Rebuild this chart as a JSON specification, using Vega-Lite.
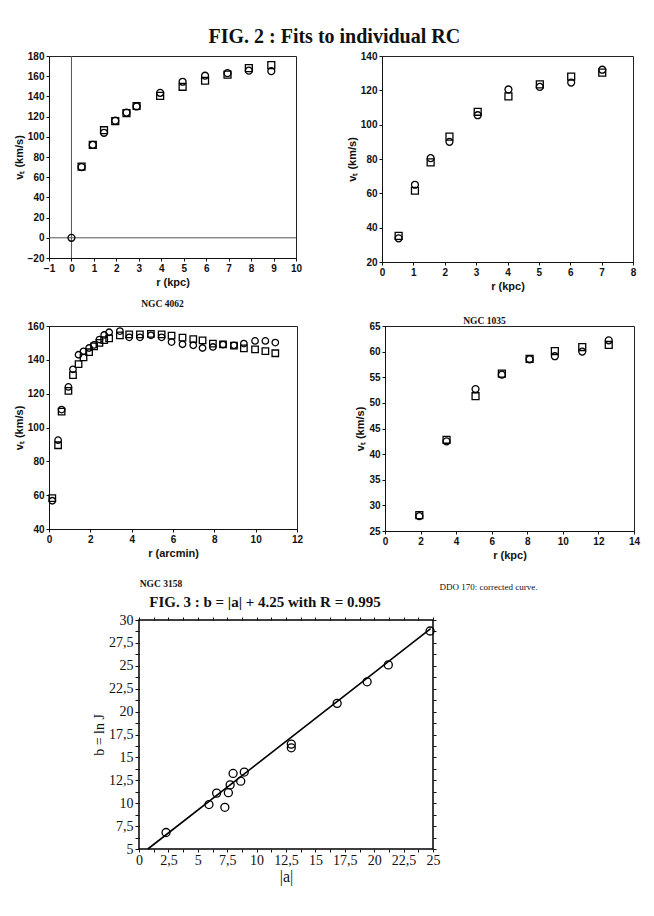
{
  "$schema": "https://vega.github.io/schema/vega-lite/v6.json",
  "background": "white",
  "padding": {"left": 12, "top": 26, "right": 5, "bottom": 5},
  "title": {"text": "FIG. 2 : Fits to individual RC", "font": "Liberation Serif", "fontSize": 20, "fontWeight": "bold", "anchor": "middle", "offset": 4, "color": "#111", "dx": 8},
  "config": {
    "view": {"stroke": "#222", "strokeWidth": 1},
    "axis": {"grid": false, "domainColor": "#111", "tickColor": "#111", "labelColor": "#111", "titleColor": "#111", "labelFont": "Liberation Sans", "labelFontSize": 10, "labelFontWeight": "bold", "titleFont": "Liberation Sans", "titleFontSize": 11, "titleFontWeight": "bold", "tickSize": 3, "labelPadding": 2, "titlePadding": 3, "labelOverlap": false, "labelFlush": false}
  },
  "datasets": {
    "p1": [
      {"r": 0, "v": 0, "kind": "circle"},
      {"r": 0.45, "v": 70, "kind": "circle"},
      {"r": 0.95, "v": 92, "kind": "circle"},
      {"r": 1.45, "v": 104, "kind": "circle"},
      {"r": 1.95, "v": 116, "kind": "circle"},
      {"r": 2.45, "v": 124, "kind": "circle"},
      {"r": 2.9, "v": 130, "kind": "circle"},
      {"r": 3.95, "v": 143.5, "kind": "circle"},
      {"r": 4.95, "v": 154.5, "kind": "circle"},
      {"r": 5.95, "v": 160.5, "kind": "circle"},
      {"r": 6.95, "v": 163, "kind": "circle"},
      {"r": 7.9, "v": 165.5, "kind": "circle"},
      {"r": 8.9, "v": 165, "kind": "circle"},
      {"r": 0.45, "v": 70.5, "kind": "square"},
      {"r": 0.95, "v": 92, "kind": "square"},
      {"r": 1.45, "v": 106.5, "kind": "square"},
      {"r": 1.95, "v": 115.5, "kind": "square"},
      {"r": 2.45, "v": 123.5, "kind": "square"},
      {"r": 2.9, "v": 130.5, "kind": "square"},
      {"r": 3.95, "v": 140.5, "kind": "square"},
      {"r": 4.95, "v": 149.5, "kind": "square"},
      {"r": 5.95, "v": 155.5, "kind": "square"},
      {"r": 6.95, "v": 161.5, "kind": "square"},
      {"r": 7.9, "v": 168, "kind": "square"},
      {"r": 8.9, "v": 171, "kind": "square"}
    ],
    "p2": [
      {"r": 0.53, "v": 33.8, "kind": "circle"},
      {"r": 1.05, "v": 65, "kind": "circle"},
      {"r": 1.55, "v": 80.5, "kind": "circle"},
      {"r": 2.15, "v": 90, "kind": "circle"},
      {"r": 3.05, "v": 105.5, "kind": "circle"},
      {"r": 4.03, "v": 120.5, "kind": "circle"},
      {"r": 5.03, "v": 122, "kind": "circle"},
      {"r": 6.03, "v": 124.5, "kind": "circle"},
      {"r": 7.02, "v": 132, "kind": "circle"},
      {"r": 0.53, "v": 35.2, "kind": "square"},
      {"r": 1.05, "v": 61.5, "kind": "square"},
      {"r": 1.55, "v": 78, "kind": "square"},
      {"r": 2.15, "v": 93, "kind": "square"},
      {"r": 3.05, "v": 107.5, "kind": "square"},
      {"r": 4.03, "v": 116.5, "kind": "square"},
      {"r": 5.03, "v": 123.5, "kind": "square"},
      {"r": 6.03, "v": 128, "kind": "square"},
      {"r": 7.02, "v": 130.3, "kind": "square"}
    ],
    "p3": [
      {"r": 0.16, "v": 56.7, "kind": "circle"}, {"r": 0.16, "v": 58.3, "kind": "square"},
      {"r": 0.44, "v": 92.5, "kind": "circle"}, {"r": 0.44, "v": 89.5, "kind": "square"},
      {"r": 0.61, "v": 110.6, "kind": "circle"}, {"r": 0.61, "v": 109.4, "kind": "square"},
      {"r": 0.94, "v": 124, "kind": "circle"}, {"r": 0.94, "v": 121.6, "kind": "square"},
      {"r": 1.16, "v": 134.4, "kind": "circle"}, {"r": 1.16, "v": 131, "kind": "square"},
      {"r": 1.43, "v": 143, "kind": "circle"}, {"r": 1.43, "v": 137.5, "kind": "square"},
      {"r": 1.67, "v": 145, "kind": "circle"}, {"r": 1.67, "v": 141.5, "kind": "square"},
      {"r": 1.94, "v": 147, "kind": "circle"}, {"r": 1.94, "v": 144.5, "kind": "square"},
      {"r": 2.18, "v": 148.8, "kind": "circle"}, {"r": 2.18, "v": 148, "kind": "square"},
      {"r": 2.44, "v": 152, "kind": "circle"}, {"r": 2.44, "v": 150, "kind": "square"},
      {"r": 2.67, "v": 154.7, "kind": "circle"}, {"r": 2.67, "v": 151.7, "kind": "square"},
      {"r": 2.91, "v": 156.3, "kind": "circle"}, {"r": 2.91, "v": 152.7, "kind": "square"},
      {"r": 3.43, "v": 157, "kind": "circle"}, {"r": 3.43, "v": 154.5, "kind": "square"},
      {"r": 3.88, "v": 153.3, "kind": "circle"}, {"r": 3.88, "v": 155, "kind": "square"},
      {"r": 4.4, "v": 153.3, "kind": "circle"}, {"r": 4.4, "v": 155, "kind": "square"},
      {"r": 4.93, "v": 154.5, "kind": "circle"}, {"r": 4.93, "v": 155.3, "kind": "square"},
      {"r": 5.45, "v": 153.3, "kind": "circle"}, {"r": 5.45, "v": 155, "kind": "square"},
      {"r": 5.93, "v": 150.5, "kind": "circle"}, {"r": 5.93, "v": 154.3, "kind": "square"},
      {"r": 6.46, "v": 149.2, "kind": "circle"}, {"r": 6.46, "v": 153.1, "kind": "square"},
      {"r": 6.98, "v": 148.6, "kind": "circle"}, {"r": 6.98, "v": 152.3, "kind": "square"},
      {"r": 7.43, "v": 147, "kind": "circle"}, {"r": 7.43, "v": 151.5, "kind": "square"},
      {"r": 7.93, "v": 147.6, "kind": "circle"}, {"r": 7.93, "v": 149.6, "kind": "square"},
      {"r": 8.42, "v": 149, "kind": "circle"}, {"r": 8.42, "v": 149.2, "kind": "square"},
      {"r": 8.95, "v": 148.6, "kind": "circle"}, {"r": 8.95, "v": 148.4, "kind": "square"},
      {"r": 9.43, "v": 149.6, "kind": "circle"}, {"r": 9.43, "v": 146.8, "kind": "square"},
      {"r": 9.97, "v": 151.2, "kind": "circle"}, {"r": 9.97, "v": 146.2, "kind": "square"},
      {"r": 10.47, "v": 151.2, "kind": "circle"}, {"r": 10.47, "v": 145.2, "kind": "square"},
      {"r": 10.95, "v": 150.2, "kind": "circle"}, {"r": 10.95, "v": 143.9, "kind": "square"}
    ],
    "p4": [
      {"r": 1.93, "v": 27.9, "kind": "circle"},
      {"r": 3.46, "v": 42.5, "kind": "circle"},
      {"r": 5.09, "v": 52.7, "kind": "circle"},
      {"r": 6.57, "v": 55.5, "kind": "circle"},
      {"r": 8.13, "v": 58.5, "kind": "circle"},
      {"r": 9.55, "v": 59.1, "kind": "circle"},
      {"r": 11.09, "v": 60.0, "kind": "circle"},
      {"r": 12.58, "v": 62.2, "kind": "circle"},
      {"r": 1.93, "v": 28.1, "kind": "square"},
      {"r": 3.46, "v": 42.8, "kind": "square"},
      {"r": 5.09, "v": 51.3, "kind": "square"},
      {"r": 6.57, "v": 55.7, "kind": "square"},
      {"r": 8.13, "v": 58.6, "kind": "square"},
      {"r": 9.55, "v": 60.1, "kind": "square"},
      {"r": 11.09, "v": 60.9, "kind": "square"},
      {"r": 12.58, "v": 61.3, "kind": "square"}
    ],
    "p5": [
      {"a": 2.3, "b": 6.8}, {"a": 5.95, "b": 9.85}, {"a": 6.6, "b": 11.1},
      {"a": 7.3, "b": 9.55}, {"a": 7.6, "b": 11.15}, {"a": 7.75, "b": 12.0},
      {"a": 8.0, "b": 13.25}, {"a": 8.65, "b": 12.4}, {"a": 8.95, "b": 13.4},
      {"a": 12.95, "b": 16.45}, {"a": 12.95, "b": 16.05}, {"a": 16.85, "b": 20.9},
      {"a": 19.4, "b": 23.25}, {"a": 21.2, "b": 25.1}, {"a": 24.75, "b": 28.8}
    ],
    "p5line": [
      {"a": 0.75, "b": 5.0}, {"a": 24.8, "b": 29.05}
    ]
  },
  "spacing": 1,
  "vconcat": [
    {
      "spacing": -12,
      "vconcat": [
        {
          "spacing": 42,
          "hconcat": [
            {
              "width": 247, "height": 202,
              "title": {"text": "NGC 4062", "orient": "bottom", "font": "Liberation Serif", "fontSize": 9.5, "fontWeight": "bold", "offset": 12, "anchor": "middle", "color": "#111", "dx": -10},
              "layer": [
                {"data": {"values": [{"r": 0}]}, "mark": {"type": "rule", "color": "#555", "strokeWidth": 1},
                 "encoding": {"x": {"field": "r", "type": "quantitative", "scale": {"domain": [-1, 10], "nice": false}, "axis": {"values": [-1,0,1,2,3,4,5,6,7,8,9,10], "title": "r (kpc)", "labelOverlap": false}}}},
                {"data": {"values": [{"v": 0}]}, "mark": {"type": "rule", "color": "#555", "strokeWidth": 1},
                 "encoding": {"y": {"field": "v", "type": "quantitative", "scale": {"domain": [-20, 180], "nice": false}, "axis": {"values": [-20,0,20,40,60,80,100,120,140,160,180], "title": "vₜ (km/s)", "labelOverlap": false}}}},
                {"data": {"name": "p1"}, "mark": {"type": "point", "filled": false, "color": "black", "strokeWidth": 1.3, "size": 48, "opacity": 1},
                 "encoding": {
                   "x": {"field": "r", "type": "quantitative", "scale": {"domain": [-1, 10], "nice": false}, "axis": {"values": [-1,0,1,2,3,4,5,6,7,8,9,10], "title": "r (kpc)", "labelOverlap": false}},
                   "y": {"field": "v", "type": "quantitative", "scale": {"domain": [-20, 180], "nice": false}, "axis": {"values": [-20,0,20,40,60,80,100,120,140,160,180], "title": "vₜ (km/s)", "labelOverlap": false}},
                   "shape": {"field": "kind", "type": "nominal", "scale": {"domain": ["circle", "square"], "range": ["circle", "square"]}, "legend": null}
                 }}
              ]
            },
            {
              "width": 251, "height": 206,
              "title": {"text": "NGC 1035", "orient": "bottom", "font": "Liberation Serif", "fontSize": 9.5, "fontWeight": "bold", "offset": 25, "anchor": "middle", "color": "#111", "dx": -23},
              "data": {"name": "p2"},
              "mark": {"type": "point", "filled": false, "color": "black", "strokeWidth": 1.3, "size": 48, "opacity": 1},
              "encoding": {
                "x": {"field": "r", "type": "quantitative", "scale": {"domain": [0, 8], "nice": false}, "axis": {"values": [0,1,2,3,4,5,6,7,8], "title": "r (kpc)"}},
                "y": {"field": "v", "type": "quantitative", "scale": {"domain": [20, 140], "nice": false}, "axis": {"values": [20,40,60,80,100,120,140], "title": "vₜ (km/s)"}},
                "shape": {"field": "kind", "type": "nominal", "scale": {"domain": ["circle", "square"], "range": ["circle", "square"]}, "legend": null}
              }
            }
          ]
        },
        {
          "spacing": 50,
          "hconcat": [
            {
              "width": 248, "height": 203,
              "title": {"text": "NGC 3158", "orient": "bottom", "font": "Liberation Serif", "fontSize": 9.5, "fontWeight": "bold", "offset": 21, "anchor": "middle", "color": "#111", "dx": -12},
              "data": {"name": "p3"},
              "mark": {"type": "point", "filled": false, "color": "black", "strokeWidth": 1.3, "size": 42, "opacity": 1},
              "encoding": {
                "x": {"field": "r", "type": "quantitative", "scale": {"domain": [0, 12], "nice": false}, "axis": {"values": [0,2,4,6,8,10,12], "title": "r (arcmin)"}},
                "y": {"field": "v", "type": "quantitative", "scale": {"domain": [40, 160], "nice": false}, "axis": {"values": [40,60,80,100,120,140,160], "title": "vₜ (km/s)"}},
                "shape": {"field": "kind", "type": "nominal", "scale": {"domain": ["circle", "square"], "range": ["circle", "square"]}, "legend": null}
              }
            },
            {
              "width": 249, "height": 205,
              "title": {"text": "DDO 170: corrected curve.", "orient": "bottom", "font": "Liberation Serif", "fontSize": 9, "fontWeight": "normal", "offset": 23, "anchor": "middle", "color": "#111", "dx": -21},
              "data": {"name": "p4"},
              "mark": {"type": "point", "filled": false, "color": "black", "strokeWidth": 1.3, "size": 48, "opacity": 1},
              "encoding": {
                "x": {"field": "r", "type": "quantitative", "scale": {"domain": [0, 14], "nice": false}, "axis": {"values": [0,2,4,6,8,10,12,14], "title": "r (kpc)"}},
                "y": {"field": "v", "type": "quantitative", "scale": {"domain": [25, 65], "nice": false}, "axis": {"values": [25,30,35,40,45,50,55,60,65], "title": "vₜ (km/s)"}},
                "shape": {"field": "kind", "type": "nominal", "scale": {"domain": ["circle", "square"], "range": ["circle", "square"]}, "legend": null}
              }
            }
          ]
        }
      ]
    },
    {
      "spacing": 0,
      "hconcat": [
        {"width": 42, "height": 10, "data": {"values": []}, "mark": "point", "encoding": {}, "view": {"stroke": null}},
        {
          "width": 294, "height": 229,
          "view": {"stroke": "black", "strokeWidth": 1.5},
          "title": {"text": "FIG. 3 : b = |a| + 4.25 with R = 0.995", "font": "Liberation Serif", "fontSize": 15, "fontWeight": "bold", "anchor": "middle", "offset": 3, "color": "#111", "dx": -21},
          "layer": [
            {"data": {"name": "p5"}, "mark": {"type": "point", "shape": "circle", "filled": false, "color": "black", "size": 64, "strokeWidth": 1.3, "opacity": 1},
             "encoding": {
               "x": {"field": "a", "type": "quantitative", "scale": {"domain": [0, 25], "nice": false},
                     "axis": {"orient": "bottom", "values": [0,1.25,2.5,3.75,5,6.25,7.5,8.75,10,11.25,12.5,13.75,15,16.25,17.5,18.75,20,21.25,22.5,23.75,25], "labelExpr": "datum.value % 2.5 === 0 ? replace(format(datum.value, '~g'), '.', ',') : ''", "domain": false, "tickSize": 3, "labelPadding": 1, "labelFont": "Liberation Serif", "labelFontSize": 14, "labelFontWeight": "normal", "title": "|a|", "titleFont": "Liberation Serif", "titleFontSize": 16, "titleFontWeight": "normal", "titlePadding": 1}},
               "y": {"field": "b", "type": "quantitative", "scale": {"domain": [5, 30], "nice": false},
                     "axis": {"orient": "left", "values": [5,6.25,7.5,8.75,10,11.25,12.5,13.75,15,16.25,17.5,18.75,20,21.25,22.5,23.75,25,26.25,27.5,28.75,30], "labelExpr": "datum.value % 2.5 === 0 ? replace(format(datum.value, '~g'), '.', ',') : ''", "domain": false, "tickSize": 4, "labelFont": "Liberation Serif", "labelFontSize": 14, "labelFontWeight": "normal", "title": "b = ln J", "titleFont": "Liberation Serif", "titleFontSize": 14, "titleFontWeight": "normal", "titlePadding": 2}}
             }},
            {"data": {"name": "p5line"}, "mark": {"type": "line", "color": "black", "strokeWidth": 1.6},
             "encoding": {
               "x": {"field": "a", "type": "quantitative", "axis": {"orient": "top", "values": [0,1.25,2.5,3.75,5,6.25,7.5,8.75,10,11.25,12.5,13.75,15,16.25,17.5,18.75,20,21.25,22.5,23.75,25], "labels": false, "domain": false, "tickSize": 3, "title": null}},
               "y": {"field": "b", "type": "quantitative", "axis": {"orient": "right", "values": [5,6.25,7.5,8.75,10,11.25,12.5,13.75,15,16.25,17.5,18.75,20,21.25,22.5,23.75,25,26.25,27.5,28.75,30], "labels": false, "domain": false, "tickSize": 3, "title": null}}
             }}
          ],
          "resolve": {"axis": {"x": "independent", "y": "independent"}}
        }
      ]
    }
  ]
}
